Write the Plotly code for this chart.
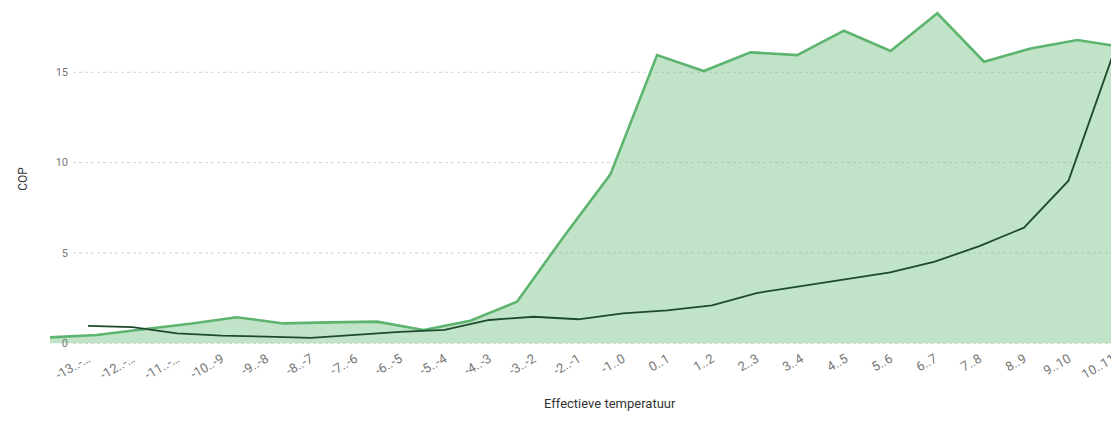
import plotly.graph_objects as go

# ---- data ----
categories = ["-13..-12", "-12..-11", "-11..-10", "-10..-9", "-9..-8", "-8..-7", "-7..-6",
              "-6..-5", "-5..-4", "-4..-3", "-3..-2", "-2..-1", "-1..0", "0..1", "1..2",
              "2..3", "3..4", "4..5", "5..6", "6..7", "7..8", "8..9", "9..10", "10..11"]
tick_labels = ["-13..-…", "-12..-…", "-11..-…", "-10..-9", "-9..-8", "-8..-7", "-7..-6",
               "-6..-5", "-5..-4", "-4..-3", "-3..-2", "-2..-1", "-1..0", "0..1", "1..2",
               "2..3", "3..4", "4..5", "5..6", "6..7", "7..8", "8..9", "9..10", "10..11"]
cop_area = [0.33, 0.46, 0.78, 1.08, 1.44, 1.10, 1.16, 1.20, 0.74, 1.25, 2.30, 5.90,
            9.35, 15.95, 15.07, 16.10, 15.95, 17.30, 16.18, 18.26, 15.58, 16.32, 16.78, 16.38]
cop_line = [0.96, 0.89, 0.55, 0.42, 0.37, 0.30, 0.47, 0.63, 0.74, 1.29, 1.47, 1.33,
            1.66, 1.82, 2.10, 2.78, 3.17, 3.55, 3.92, 4.52, 5.38, 6.40, 9.00, 16.0]
y_ticks = [0, 5, 10, 15]

# figure is placed at (8, 8) in the page (default body margin)
W, H = 1111, 416
ML, MR, MT, MB = 32, 0, 2, 76
PW = W - ML - MR
PH = H - MT - MB

def px_x(p):
    return (p - ML) / PW

def px_y(p):
    return 1 - (p - MT) / PH

Y0 = 335.3       # pixel row of value 0
PPU = 18.07      # pixels per COP unit

fig = go.Figure()

# green area (base x axis)
fig.add_trace(go.Scatter(
    x=categories, y=cop_area, xaxis="x", yaxis="y", mode="lines",
    line=dict(color="#5db46f", width=2.6),
    fill="tozeroy", fillcolor="rgba(117,195,135,0.45)",
    hoverinfo="skip", showlegend=False,
))
# dark line (overlaying x axis, drawn on top)
fig.add_trace(go.Scatter(
    x=categories, y=cop_line, xaxis="x2", yaxis="y", mode="lines",
    line=dict(color="#1e4a2c", width=1.8),
    hoverinfo="skip", showlegend=False,
))

grid_x0 = px_x(65)
shapes = [dict(type="line", xref="paper", yref="y", x0=grid_x0, x1=1, y0=v, y1=v,
               line=dict(color="#d4d4d4", width=1, dash="dot"), layer="below")
          for v in y_ticks]

d0, dstep = 80.0, 44.57
g0, gstep = 42.0, 46.7

fig.update_layout(
    width=W, height=H,
    margin=dict(l=ML, r=MR, t=MT, b=MB),
    paper_bgcolor="white", plot_bgcolor="white",
    font=dict(family="Roboto, 'DejaVu Sans', sans-serif", color="#666"),
    showlegend=False,
    shapes=shapes,
    xaxis=dict(
        type="category", categoryorder="array", categoryarray=categories,
        range=[(ML - g0) / gstep, (W - MR - g0) / gstep],
        visible=False, fixedrange=True,
    ),
    xaxis2=dict(
        type="category", categoryorder="array", categoryarray=categories,
        overlaying="x", anchor="y", side="bottom",
        range=[(ML - d0) / dstep, (W - MR - d0) / dstep],
        tickmode="array", tickvals=categories, ticktext=tick_labels,
        tickangle=-30, tickfont=dict(size=13, color="#777"),
        showgrid=False, zeroline=False, showline=False, ticks="",
    ),
    yaxis=dict(
        anchor="free", position=px_x(60),
        range=[-(MT + PH - Y0) / PPU, (Y0 - MT) / PPU],
        tickmode="array", tickvals=y_ticks, ticktext=[str(v) for v in y_ticks],
        tickfont=dict(size=11, color="#777"),
        showgrid=False, zeroline=False, showline=False, ticks="",
        title=dict(text="COP", font=dict(size=12, color="#333"), standoff=24),
    ),
    annotations=[
        dict(text="Effectieve temperatuur", xref="paper", yref="paper",
             x=px_x(602), y=px_y(395), xanchor="center", yanchor="middle",
             showarrow=False, font=dict(size=13, color="#333")),
    ],
)

fig.write_html("out.html")
